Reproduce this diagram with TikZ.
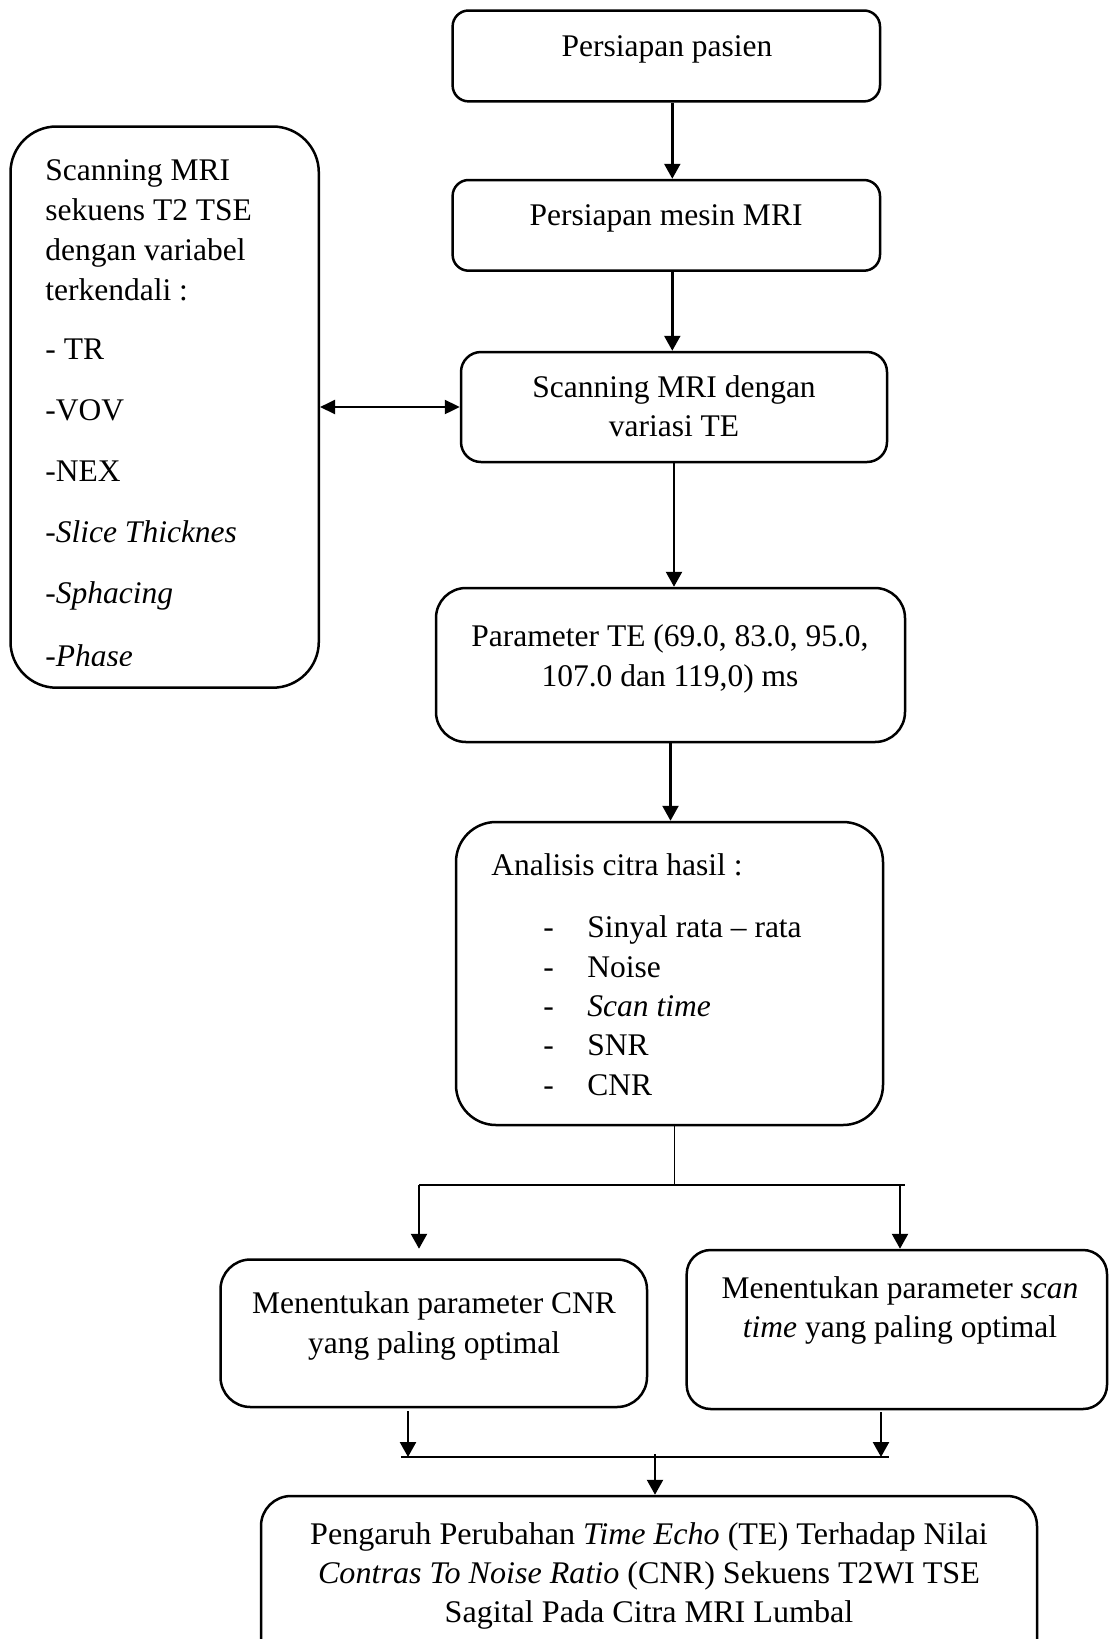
\documentclass[tikz,border=0pt]{standalone}
\usepackage{fontspec}
\setmainfont{Liberation Serif}
\usetikzlibrary{arrows.meta,fit,calc}
\begin{document}
\begin{tikzpicture}[x=0.5pt,y=-0.5pt,
  box/.style={draw, line width=1.25pt, inner sep=0pt},
  txt/.style={font=\fontsize{15.75}{20}\selectfont, inner sep=0pt, anchor=base},
  ltxt/.style={txt, anchor=base west},
  conn/.style={line width=1.2pt},
  thinconn/.style={line width=0.55pt},
  arr/.style={line width=1.2pt, -{Triangle[length=7.5pt,width=8pt]}},
  darr/.style={line width=1.2pt, {Triangle[length=7.5pt,width=7pt]}-{Triangle[length=7.5pt,width=7pt]}},
  ]
\useasboundingbox (0,0) rectangle (1109,1639);
\clip (0,0) rectangle (1109,1639);

% boxes
\node[box, rounded corners=8pt, fit={(452.6,10.5) (880,101.4)}] (b1) {};
\node[box, rounded corners=8pt, fit={(452.6,180) (880,270.7)}] (b2) {};
\node[box, rounded corners=10pt, fit={(461,352) (887,462)}] (b3) {};
\node[box, rounded corners=23pt, fit={(10.5,126.5) (318.8,687.7)}] (L) {};
\node[box, rounded corners=15pt, fit={(436,588) (905,742)}] (b4) {};
\node[box, rounded corners=20pt, fit={(456,822) (883,1125)}] (b5) {};
\node[box, rounded corners=15pt, fit={(220.5,1259.5) (647,1407)}] (b6) {};
\node[box, rounded corners=12pt, fit={(686.7,1250) (1107,1409)}] (b7) {};
\node[box, rounded corners=15pt, fit={(261,1496) (1037,1690)}] (b8) {};

% texts
\node[txt] (t1) at (667,56) {Persiapan pasien};
\node[txt] (t2) at (666,225) {Persiapan mesin MRI};
\node[txt] (t3a) at (674,397) {Scanning MRI dengan};
\node[txt] (t3b) at (674,436) {variasi TE};

\node[ltxt] (l1) at (45,180) {Scanning MRI};
\node[ltxt] (l2) at (45,220) {sekuens T2 TSE};
\node[ltxt] (l3) at (45,260) {dengan variabel};
\node[ltxt] (l4) at (45,300) {terkendali :};
\node[ltxt] (l5) at (45,359) {- TR};
\node[ltxt] (l6) at (45,420) {-VOV};
\node[ltxt] (l7) at (45,481) {-NEX};
\node[ltxt] (l8) at (45,542) {-\textit{Slice Thicknes}};
\node[ltxt] (l9) at (45,603) {-\textit{Sphacing}};
\begin{scope}
\clip (20,600) rectangle (300,665.5);
\node[ltxt] (l10) at (45,666) {-\textit{Phase}};
\end{scope}

\node[txt] (t4a) at (670,646) {Parameter TE (69.0, 83.0, 95.0,};
\node[txt] (t4b) at (670,686) {107.0 dan 119,0) ms};

\node[ltxt] (t5) at (491,875) {Analisis citra hasil :};
\node[ltxt] (d1) at (543,937) {-};
\node[ltxt] (d2) at (543,977) {-};
\node[ltxt] (d3) at (543,1016) {-};
\node[ltxt] (d4) at (543,1055) {-};
\node[ltxt] (d5) at (543,1095) {-};
\node[ltxt] (i1) at (587,937) {Sinyal rata – rata};
\node[ltxt] (i2) at (587,977) {Noise};
\node[ltxt] (i3) at (587,1016) {\textit{Scan time}};
\node[ltxt] (i4) at (587,1055) {SNR};
\node[ltxt] (i5) at (587,1095) {CNR};

\node[txt] (t6a) at (434,1313) {Menentukan parameter CNR};
\node[txt] (t6b) at (434,1353) {yang paling optimal};
\node[txt] (t7a) at (900,1298) {Menentukan parameter \textit{scan}};
\node[txt] (t7b) at (900,1337) {\textit{time} yang paling optimal};

\begin{scope}[every node/.append style={xscale=1.02}]
\node[txt] (t8a) at (649,1544) {Pengaruh Perubahan \textit{Time Echo} (TE) Terhadap Nilai};
\node[txt] (t8b) at (649,1583) {\textit{Contras To Noise Ratio} (CNR) Sekuens T2WI TSE};
\node[txt] (t8c) at (649,1622) {Sagital Pada Citra MRI Lumbal};
\end{scope}

% connectors
\coordinate (a1) at ($(b1.south)+(6,0)$);
\draw[arr] (a1) -- (a1 |- b2.north);
\coordinate (a2) at ($(b2.south)+(6,0)$);
\draw[arr] (a2) -- (a2 |- b3.north);
\draw[arr] (b3.south) -- (b3.south |- b4.north);
\draw[arr] (b4.south) -- (b4.south |- b5.north);
\draw[darr] (b3.west -| L.east) -- (b3.west);

\coordinate (s0) at ($(b5.south)+(5,0)$);
\coordinate (sl) at (419,1185);
\coordinate (sr) at (905,1185);
\coordinate (sa) at (900,1185);
\draw[thinconn] (s0) -- (s0 |- sl);
\draw[conn] (sl) -- (sr);
\draw[arr] (sl) -- (sl |- b7.north);
\draw[arr] (sa) -- (sa |- b7.north);

\coordinate (ml) at (401,1457);
\coordinate (mr) at (889,1457);
\coordinate (la) at (408,1411);
\coordinate (ra) at (881,1412);
\coordinate (ca) at (655,1454);
\draw[conn] (ml) -- (mr);
\draw[arr] (la) -- (la |- ml);
\draw[arr] (ra) -- (ra |- ml);
\draw[arr] (ca) -- (ca |- b8.north);
\end{tikzpicture}
\end{document}
